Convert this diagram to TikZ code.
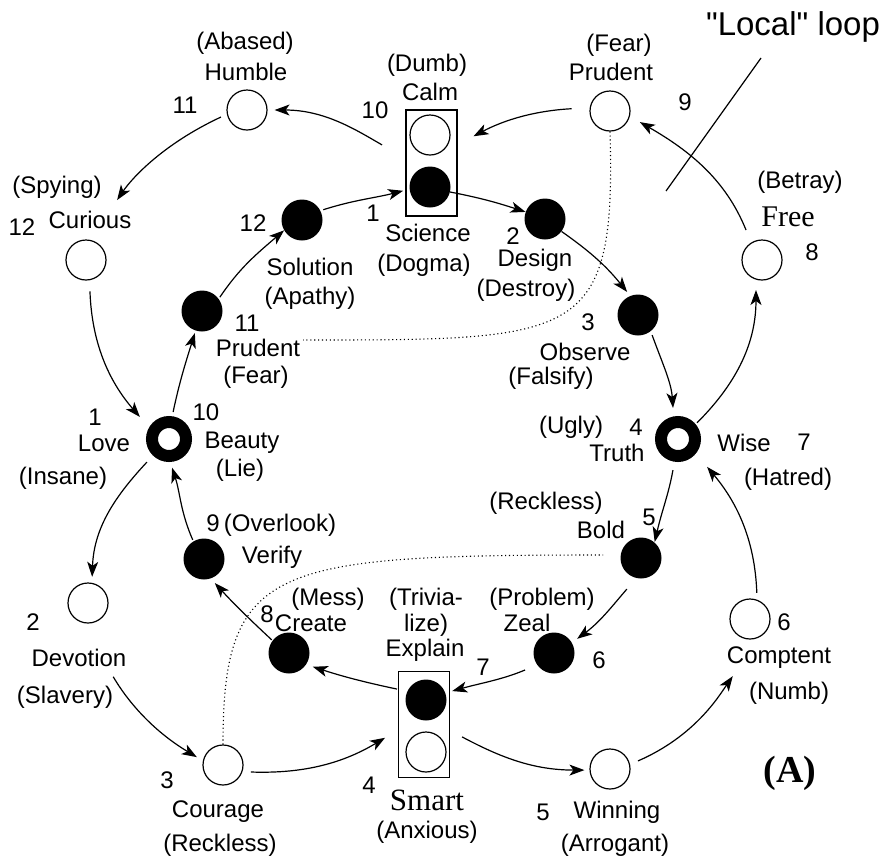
\documentclass[tikz,border=0pt]{standalone}
\usepackage{fontspec}
\setmainfont{Liberation Sans}
\newfontfamily\timesfam{Liberation Serif}
\newfontfamily\capfont{Liberation Sans}[Ligatures=TeXOff]
\usetikzlibrary{arrows.meta}
\newcommand\labfont{\fontsize{24}{28}\selectfont}

\begin{document}
\begin{tikzpicture}[x=1pt, y=1pt, font=\labfont,
    wnode/.style={circle, draw, line width=1.2pt, fill=white, minimum size=40pt, inner sep=0pt},
    bnode/.style={circle, fill=black, minimum size=41pt, inner sep=0pt},
    rnode/.style={circle, draw, line width=12pt, minimum size=34pt, inner sep=0pt},
    lamp/.style={draw, line width=1.2pt, minimum width=51pt, minimum height=106pt, inner sep=0pt},
    txt/.style={inner sep=0pt},
    flow/.style={line width=1.2pt, -{Stealth[length=15pt, width=11pt, inset=4pt]}},
    hint/.style={line width=1.1pt, dash pattern=on 1.1pt off 2.8pt}]
  \useasboundingbox (0,0) rectangle (896,-860);
  % traffic-light boxes
  \node[lamp] (calm) at (431.5,-163) {};
  \node[wnode] (ccalm) at (430,-135) {};
  \node[bnode] (sci) at (430,-187) {};
  \node[lamp] (smart) at (424,-724.5) {};
  \node[bnode] (expl) at (426,-700) {};
  \node[wnode] (csmart) at (426,-752) {};
  % outer loop
  \foreach \nm/\x/\y in {hum/247/110, cur/86/260, dev/88/603, cour/223/765,
      win/610/769, comp/750/619, free/762/260, prud/610/111}
    \node[wnode] (\nm) at (\x,-\y) {};
  % inner loop
  \foreach \nm/\x/\y in {sol/302/220, des/545/219, pin/202/311, obs/638/315,
      ver/204/559, bold/641/558, cre/289/653, zeal/554/653}
    \node[bnode] (\nm) at (\x,-\y) {};
  % crossing points
  \node[rnode] (love) at (169,-439) {};
  \node[rnode] (wise) at (678,-439) {};

  % labels
  \foreach \nm/\x/\y/\t in {
      humA/245/43/(Abased), humB/246/72/Humble, humN/185/105/11,
      calmA/427/65/(Dumb), calmB/430/92/Calm, calmN/375/110/10,
      prudA/619/45/(Fear), prudB/611/72/Prudent, prudN/685/102/9,
      curA/57/187/(Spying), curN/22/227/12, curB/90/220/Curious,
      solN/253/223/12, solB/310/267/Solution, solA/310/298/(Apathy),
      sciN/373/213/1, sciB/428/233/Science, sciA/424/265/(Dogma),
      desN/513/236/2, desB/535/260/Design, desA/526/290/(Destroy),
      pinN/247/323/11, pinB/258/348/Prudent, pinA/256/377/(Fear),
      obsN/588/322/3, obsB/585/352/Observe, obsA/551/378/(Falsify),
      freeA/800/182/(Betray), freeN/812/252/8,
      loveN/95/417/1, loveB/104/443/Love, loveA/63/478/(Insane),
      beauN/206/412/10, beauB/242/443/Beauty, beauA/240/470/(Lie),
      truA/571/427/(Ugly), truN/636/427/4, truB/617/453/Truth,
      wiseB/744/443/Wise, wiseN/804/442/7, wiseA/788/479/(Hatred),
      boldA/546/503/(Reckless), boldN/649/517/5, boldB/601/530/Bold,
      verN/213/523/9, verA/280/525/(Overlook), verB/272/557/Verify,
      creA/328/599/(Mess), creN/267/614/8, creB/311/623/Create,
      explA/426/599/(Trivia-, explC/426/625/lize), explB/425/650/Explain, explN/483/667/7,
      zealA/542/599/(Problem), zealB/527/623/Zeal, zealN/599/660/6,
      compN/784/622/6, compB/779/658/Comptent, compA/789/693/(Numb),
      devN/33/622/2, devB/79/658/Devotion, devA/65/697/(Slavery),
      courN/167/780/3, courB/218/812/Courage, courA/220/845/(Reckless),
      smartN/369/785/4, smartA/427/832/(Anxious),
      winN/543/812/5, winB/617/812/Winning, winA/615/845/(Arrogant)}
    \node[txt] (\nm) at (\x,-\y) {\t};
  \node[txt, font=\fontsize{30}{32}\selectfont\timesfam] (freeB) at (788,-217) {Free};
  \node[txt, font=\fontsize{31}{33}\selectfont\timesfam] (smartB) at (427,-800) {Smart};
  \node[txt, font=\fontsize{38}{40}\selectfont\timesfam\bfseries] (tagA) at (790,-773) {(A)};
  \node[txt, font=\fontsize{33}{36}\selectfont\capfont] (local) at (793,-27) {"Local" loop};

  % transitions: from/anchor/to/anchor/out/in/shorten start/shorten end
  \foreach \p/\pa/\q/\qa/\ho/\hi/\s/\e in {
      prud/171/calm/35/183/28/18/18, calm/170/hum/0/150/0/27/7,
      hum/192/cur/78/205/56/6.5/48, cur/280/love/150/272/131/11/14,
      love/226/dev/79/227/88/9/6, dev/223/cour/168/304/149/72/7,
      cour/341/smart/192/358/211/8.5/15, smart/347/win/183/332/180/13.6/5,
      win/13/comp/300/23.5/235/8.6/48, comp/70/wise/321/92/310/6.7/17.5,
      wise/40/free/253/45/270/2/10.3, free/122/prud/345/112/330/13.5/11.5,
      sci/346/des/160/349/162/0/0, des/323/obs/112/325/129/0/5,
      obs/308/wise/101/290/94/4/8.5, wise/261/bold/49/260/77/8.5/0.5,
      bold/257/zeal/30/229/36.5/14.5/6.5, zeal/215/expl/20/203/15.5/13/7,
      expl/155/cre/326/168/342/10.5/7, cre/143/ver/289/137/312.5/1/6,
      ver/121/love/273/113.6/288/1.5/6, love/82/pin/252/78/252.6/4.3/2.5,
      pin/36/sol/210/56/220.6/2/0, sol/27/sci/186/17.6/194.4/3/6.5}
    \draw[flow, shorten <=\s pt, shorten >=\e pt] (\p.\pa) to[out=\ho, in=\hi] (\q.\qa);

  % local loops, dotted
  \coordinate (loopA) at (303,-340);
  \coordinate (loopB) at (603,-555);
  \draw[hint] (prud.south) .. controls +(6,-209) and +(277,0) .. (loopA);
  \draw[hint] (cour.north) .. controls +(0,180) and +(-330,0) .. (loopB);
  % pointer of the caption
  \coordinate (lptop) at (761,-58);
  \coordinate (lptip) at (666,-191);
  \draw[line width=1.2pt] (lptop) -- (lptip);
\end{tikzpicture}
\end{document}
